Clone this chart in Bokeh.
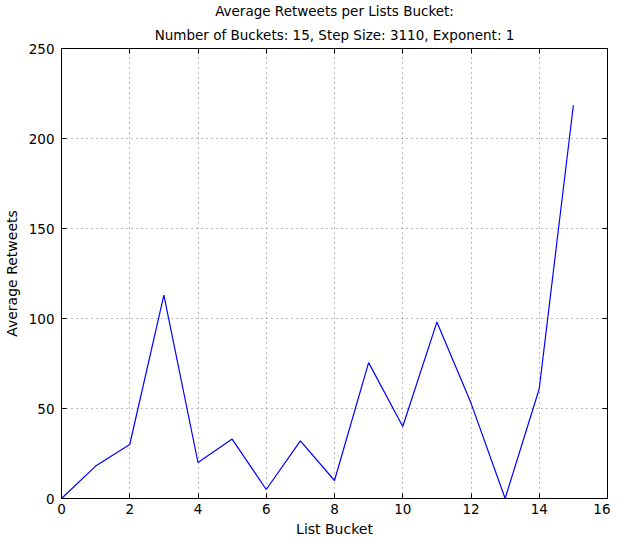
from bokeh.plotting import figure
from bokeh.models import LinearAxis, FixedTicker, Range1d, Title, CustomJSTickFormatter
from bokeh.embed import file_html
from bokeh.resources import INLINE

buckets = [0, 1, 2, 3, 4, 5, 6, 7, 8, 9, 10, 11, 12, 13, 14, 15]
avg_retweets = [0, 18, 30, 113, 20, 33, 5, 32, 10, 75.5, 40, 98, 53, 0, 61, 218.5]
x_ticks = [0, 2, 4, 6, 8, 10, 12, 14, 16]
y_ticks = [0, 50, 100, 150, 200, 250]
title_line1 = "Average Retweets per Lists Bucket:"
title_line2 = "Number of Buckets: 15, Step Size: 3110, Exponent: 1"

FONT = "DejaVu Sans"

p = figure(width=610, height=539, output_backend="svg", toolbar_location=None,
           title=None,
           x_range=Range1d(0, 16), y_range=Range1d(0, 250),
           min_border_left=56, min_border_right=3, min_border_top=48, min_border_bottom=40,
           x_axis_label="List Bucket", y_axis_label="Average Retweets")

p.line(buckets, avg_retweets, line_color="#0000ff", line_width=1.2)

p.outline_line_color = "black"
p.outline_line_width = 1
p.background_fill_color = "white"
p.border_fill_color = "white"

for ax, ticks in ((p.xaxis[0], x_ticks), (p.yaxis[0], y_ticks)):
    ax.ticker = FixedTicker(ticks=ticks)
    ax.major_tick_in = 5
    ax.major_tick_out = 0
    ax.minor_tick_line_color = None
    ax.axis_line_color = "black"
    ax.major_tick_line_color = "black"
    ax.major_label_text_font = FONT
    ax.major_label_text_font_size = "13.5px"
    ax.major_label_text_color = "black"
    ax.axis_label_text_font = FONT
    ax.axis_label_text_font_size = "14px"
    ax.axis_label_text_font_style = "normal"
    ax.axis_label_text_color = "black"

p.xaxis[0].major_label_standoff = 5
p.xaxis[0].axis_label_standoff = 4
p.yaxis[0].major_label_standoff = 7
p.yaxis[0].axis_label_standoff = 6

blank = CustomJSTickFormatter(code="return ''")
for loc, ticks in (("above", x_ticks), ("right", y_ticks)):
    a = LinearAxis(ticker=FixedTicker(ticks=ticks), formatter=blank)
    a.major_tick_in = 5
    a.major_tick_out = 0
    a.minor_tick_line_color = None
    a.major_label_standoff = 0
    a.axis_label_standoff = 0
    a.major_label_text_font_size = "1px"
    a.axis_line_color = "black"
    p.add_layout(a, loc)

for txt, so in ((title_line2, 12), (title_line1, 0)):
    t = Title(text=txt, align="center", text_font=FONT,
              text_font_size="13.5px", text_font_style="normal", text_color="black",
              standoff=so, offset=0)
    p.add_layout(t, "above")

for g, ticks in ((p.xgrid[0], x_ticks), (p.ygrid[0], y_ticks)):
    g.ticker = FixedTicker(ticks=ticks)
    g.grid_line_color = "#777777"
    g.grid_line_dash = "1 4"
    g.grid_line_width = 1

open("out.html", "w").write(file_html(p, INLINE))
